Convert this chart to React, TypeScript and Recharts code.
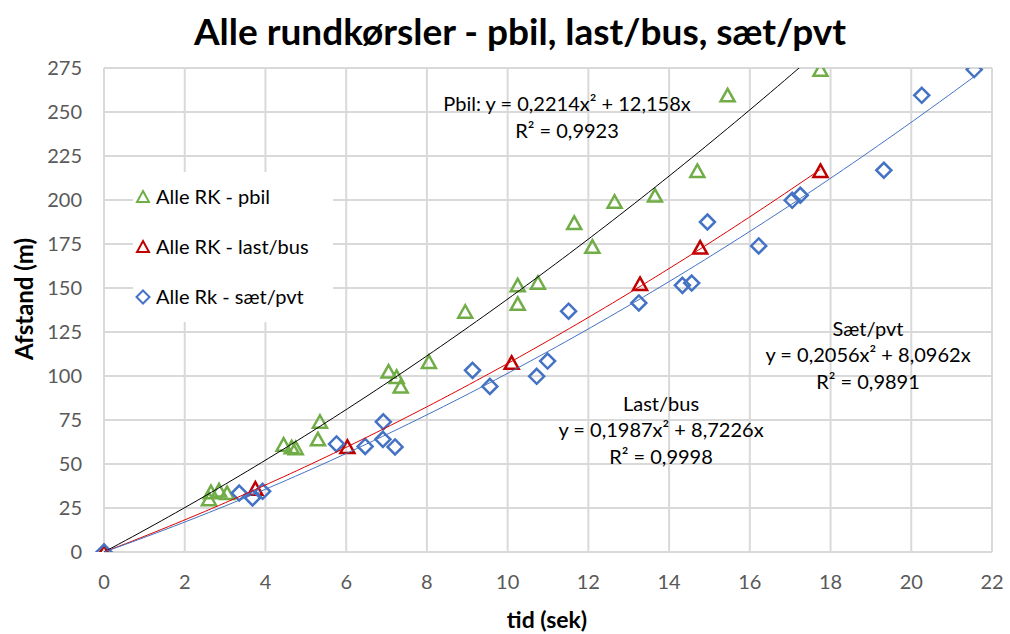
import React from 'react'
import { ScatterChart, Scatter, XAxis, YAxis, CartesianGrid, Customized } from 'recharts'

// Axis ticks
const xTicks = [0, 2, 4, 6, 8, 10, 12, 14, 16, 18, 20, 22]
const yTicks = [0, 25, 50, 75, 100, 125, 150, 175, 200, 225, 250, 275]

// Alle RK - pbil
const pbilTid = [0, 2.6, 2.65, 2.85, 3.05, 4.45, 4.65, 4.75, 5.3, 5.35, 7.05, 7.25, 7.35, 8.05, 8.95, 10.25, 10.25, 10.75, 11.65, 12.1, 12.65, 13.65, 14.7, 15.45, 17.75]
const pbilAfstand = [0, 30, 34, 35, 33.5, 61, 59.5, 59, 64, 74, 102.5, 99.5, 94, 108, 136.5, 141, 151.5, 153, 187, 173.5, 199, 202.5, 216.5, 259.5, 274]

// Alle RK - last/bus
const lastTid = [0, 3.75, 6.03, 10.1, 13.28, 14.77, 17.75]
const lastAfstand = [0, 36, 59.7, 107.5, 152.3, 173, 216.5]

// Alle Rk - sæt/pvt
const saetTid = [0, 3.35, 3.68, 3.93, 5.76, 6.47, 6.91, 6.92, 7.21, 9.13, 9.56, 10.72, 10.99, 11.51, 13.25, 14.33, 14.56, 14.95, 16.22, 17.05, 17.25, 19.32, 20.26, 21.56]
const saetAfstand = [0, 33.5, 30.7, 34.5, 61.4, 60, 64, 74, 59.7, 103.2, 94.1, 99.8, 108.5, 136.8, 141.5, 151.5, 152.8, 187.5, 173.9, 199.8, 202.7, 216.9, 259.5, 274.1]

// Polynomial trendline coefficients (a*x^2 + b*x), as printed on the chart
const pbilFit = [0.2214, 12.158]
const lastFit = [0.1987, 8.7226]
const saetFit = [0.2056, 8.0962]

const GREEN = '#70AD47'
const RED = '#C00000'
const BLUE = '#4472C4'
const FONT = 'Lato, Carlito, Calibri, sans-serif'

const toPoints = (xs: number[], ys: number[]) => xs.map((x, i) => ({ x, y: ys[i] }))

// trendline drawn from 0 to the last measured time of the series
const trend = (fit: number[], xs: number[]) => {
  const xMax = Math.max(...xs)
  const pts: { x: number; y: number }[] = []
  for (let i = 0; i <= 100; i++) {
    const x = (xMax * i) / 100
    pts.push({ x, y: fit[0] * x * x + fit[1] * x })
  }
  return pts
}

const Triangle = ({ cx, cy, color }: any) => (
  <path
    d={`M${cx},${cy - 6.5} L${cx + 7},${cy + 6} L${cx - 7},${cy + 6} Z`}
    fill="none"
    stroke={color}
    strokeWidth={2.5}
  />
)

const Diamond = ({ cx, cy, color }: any) => (
  <path
    d={`M${cx},${cy - 7.5} L${cx + 7.5},${cy} L${cx},${cy + 7.5} L${cx - 7.5},${cy} Z`}
    fill="none"
    stroke={color}
    strokeWidth={2.5}
  />
)

const NoDot = () => <g />

const legendItems = [
  { label: 'Alle RK - pbil', color: GREEN, kind: 'tri' },
  { label: 'Alle RK - last/bus', color: RED, kind: 'tri' },
  { label: 'Alle Rk - sæt/pvt', color: BLUE, kind: 'dia' },
]

const Overlay = () => (
  <g fontFamily={FONT}>
    <text x={520} y={45} textAnchor="middle" fontSize={37} fontWeight={700} fill="#000">
      Alle rundkørsler - pbil, last/bus, sæt/pvt
    </text>
    <text
      x={0}
      y={0}
      transform="translate(33,299) rotate(-90)"
      textAnchor="middle"
      fontSize={24}
      fontWeight={700}
      fill="#000"
    >
      Afstand (m)
    </text>
    <text x={547} y={628} textAnchor="middle" fontSize={23} fontWeight={700} fill="#000">
      tid (sek)
    </text>

    <g fontSize={20} fill="#000" textAnchor="middle">
      <text x={567} y={111}>Pbil: y = 0,2214x² + 12,158x</text>
      <text x={567} y={138}>R² = 0,9923</text>
      <text x={868} y={336}>Sæt/pvt</text>
      <text x={868} y={362}>y = 0,2056x² + 8,0962x</text>
      <text x={868} y={389}>R² = 0,9891</text>
      <text x={661} y={411}>Last/bus</text>
      <text x={661} y={437}>y = 0,1987x² + 8,7226x</text>
      <text x={661} y={464}>R² = 0,9998</text>
    </g>

    {/* legend box inside the plot area */}
    <rect x={133} y={172} width={200} height={150} fill="#fff" />
    {legendItems.map((item, i) => {
      const cy = 197 + i * 50
      return (
        <g key={item.label}>
          {item.kind === 'tri' ? (
            <path
              d={`M143,${cy - 6} L149,${cy + 5} L137,${cy + 5} Z`}
              fill="none"
              stroke={item.color}
              strokeWidth={2}
            />
          ) : (
            <path
              d={`M143,${cy - 6.5} L149.5,${cy} L143,${cy + 6.5} L136.5,${cy} Z`}
              fill="none"
              stroke={item.color}
              strokeWidth={2}
            />
          )}
          <text x={156} y={cy + 7} fontSize={20} fill="#000">
            {item.label}
          </text>
        </g>
      )
    })}
  </g>
)

export default function App() {
  const tickStyle = { fill: '#595959', fontSize: 20, fontFamily: FONT }
  return (
    <div style={{ position: 'absolute', left: 0, top: 0, background: '#fff' }}>
      <ScatterChart
        width={1010}
        height={634}
        margin={{ top: 68, right: 18, bottom: 42, left: 44 }}
        style={{ fontFamily: FONT }}
      >
        <CartesianGrid stroke="#D9D9D9" strokeWidth={2} />
        <XAxis
          type="number"
          dataKey="x"
          domain={[0, 22]}
          ticks={xTicks}
          height={40}
          tick={tickStyle}
          tickLine={false}
          tickSize={0}
          tickMargin={23}
          axisLine={{ stroke: '#D9D9D9', strokeWidth: 2 }}
        />
        <YAxis
          type="number"
          dataKey="y"
          domain={[0, 275]}
          ticks={yTicks}
          allowDataOverflow
          width={60}
          tick={tickStyle}
          tickLine={false}
          tickSize={0}
          tickMargin={22}
          axisLine={{ stroke: '#D9D9D9', strokeWidth: 2 }}
        />
        <Scatter
          data={toPoints(pbilTid, pbilAfstand)}
          shape={(p: any) => <Triangle {...p} color={GREEN} />}
          isAnimationActive={false}
        />
        <Scatter
          data={toPoints(lastTid, lastAfstand)}
          shape={(p: any) => <Triangle {...p} color={RED} />}
          isAnimationActive={false}
        />
        <Scatter
          data={toPoints(saetTid, saetAfstand)}
          shape={(p: any) => <Diamond {...p} color={BLUE} />}
          isAnimationActive={false}
        />
        <Scatter
          data={trend(pbilFit, pbilTid)}
          line={{ stroke: '#000', strokeWidth: 1 }}
          shape={NoDot}
          isAnimationActive={false}
        />
        <Scatter
          data={trend(lastFit, lastTid)}
          line={{ stroke: '#E00000', strokeWidth: 1 }}
          shape={NoDot}
          isAnimationActive={false}
        />
        <Scatter
          data={trend(saetFit, saetTid)}
          line={{ stroke: BLUE, strokeWidth: 1 }}
          shape={NoDot}
          isAnimationActive={false}
        />
        <Customized component={<Overlay />} />
      </ScatterChart>
    </div>
  )
}
